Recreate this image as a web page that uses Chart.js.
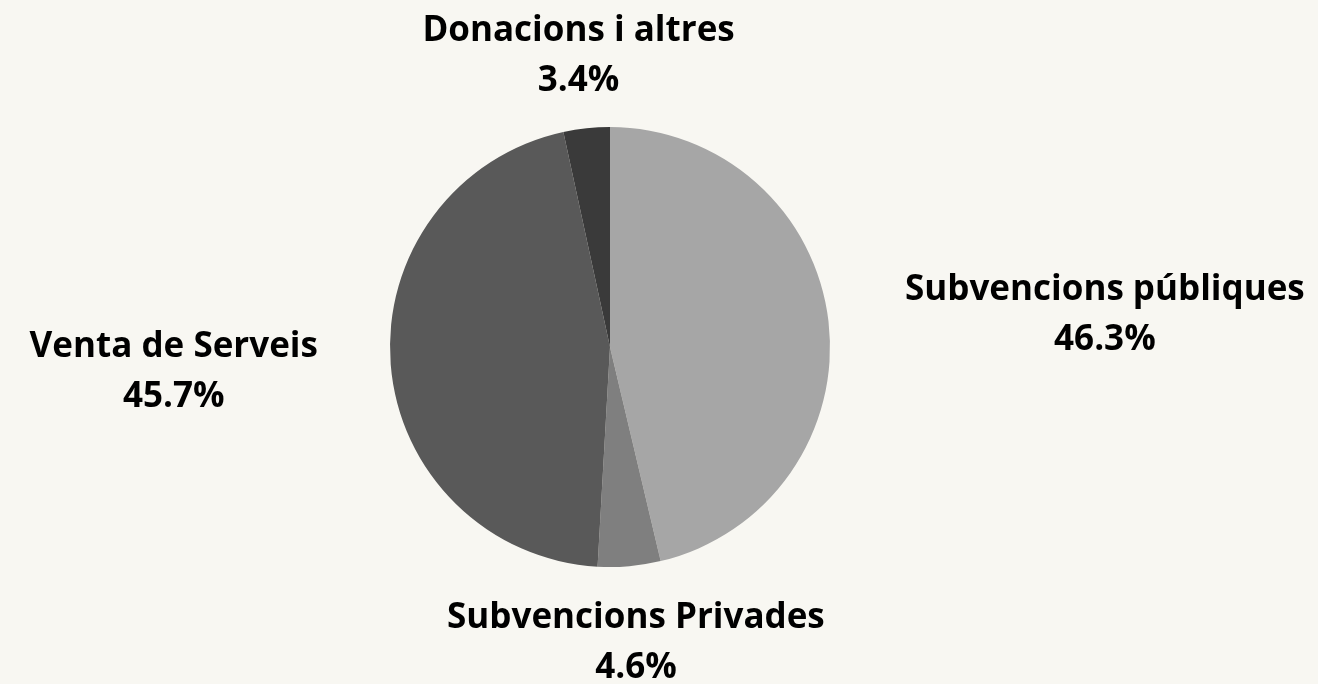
<!DOCTYPE html>
<html>
<head>
<meta charset="utf-8">
<script src="https://cdn.jsdelivr.net/npm/chart.js@4.4.0/dist/chart.umd.min.js"></script>
<style>
html,body{margin:0;padding:0;background:#f8f7f2;}
#wrap{width:1318px;height:684px;position:relative;}
</style>
</head>
<body>
<div id="wrap"><canvas id="c" width="1318" height="684"></canvas></div>
<script>
const categories = ["Subvencions públiques", "Subvencions Privades", "Venta de Serveis", "Donacions i altres"];
const values = [46.3, 4.6, 45.7, 3.4];
const colors = ["#a6a6a6", "#7f7f7f", "#595959", "#3a3a3a"];

const FONT_SIZE = 35;
const LINE_GAP = 50;

const outsideLabels = {
  id: 'outsideLabels',
  afterDatasetsDraw(chart) {
    const ctx = chart.ctx;
    const meta = chart.getDatasetMeta(0);
    const total = values.reduce((a, b) => a + b, 0);
    ctx.save();
    ctx.font = `bold ${FONT_SIZE}px "Open Sans"`;
    ctx.fillStyle = '#000';
    ctx.textBaseline = 'middle';
    meta.data.forEach((arc, i) => {
      const p = arc.getProps(['x', 'y', 'startAngle', 'endAngle', 'outerRadius'], true);
      const mid = (p.startAngle + p.endAngle) / 2;
      const d = p.outerRadius + 75;
      const ax = p.x + Math.cos(mid) * d;
      const ay = p.y + Math.sin(mid) * d + 2;
      const c = Math.cos(mid);
      let align = 'center';
      if (c > 0.5) align = 'left';
      else if (c < -0.5) align = 'right';
      const lines = [categories[i], (values[i] / total * 100).toFixed(1) + '%'];
      const w = Math.max(...lines.map(l => ctx.measureText(l).width));
      let cx;
      if (align === 'left') cx = ax + 2 + w / 2;
      else if (align === 'right') cx = ax + 2 - w / 2;
      else cx = ax;
      ctx.textAlign = 'center';
      ctx.fillText(lines[0], cx, ay - LINE_GAP / 2);
      ctx.fillText(lines[1], cx, ay + LINE_GAP / 2);
    });
    ctx.restore();
  }
};

new Chart(document.getElementById('c'), {
  type: 'pie',
  data: {
    labels: categories,
    datasets: [{
      data: values,
      backgroundColor: colors,
      borderWidth: 0
    }]
  },
  options: {
    responsive: false,
    animation: false,
    layout: { padding: { top: 127, bottom: 117, left: 0, right: 98 } },
    plugins: {
      legend: { display: false },
      tooltip: { enabled: false }
    }
  },
  plugins: [outsideLabels]
});
</script>
</body>
</html>
